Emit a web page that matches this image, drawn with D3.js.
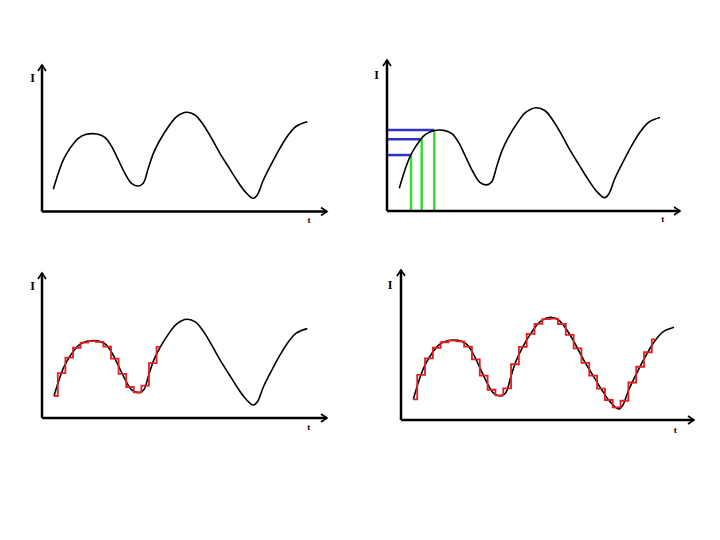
<!DOCTYPE html>
<html>
<head>
<meta charset="utf-8">
<script src="https://cdn.jsdelivr.net/npm/d3@7"></script>
<style>
  body { margin: 0; background: #fff; }
  .lab { font-family: "Liberation Serif", "DejaVu Serif", serif; font-weight: bold; fill: #000; }
</style>
</head>
<body>
<div id="chart"></div>
<script>
// signal I(t) (t and I in 0..100 units)
var curveT = [0, 1.97, 3.94, 6.56, 9.84, 13.1, 17.1, 20.3, 23.0, 25.6, 28.2, 30.8, 33.5, 35.4, 37.4,
    39.4, 42.0, 45.3, 48.6, 52.5, 55.8, 59.1, 62.3, 65.6, 68.9, 72.2, 75.5, 78.7, 80.3, 82.7,
    86.0, 89.2, 92.5, 95.8, 100];
var curveI = [10.5, 29.1, 44.6, 58.1, 69.8, 74.4, 74.8, 70.9, 60.1, 44.6, 29.1, 17.4, 14.3, 17.4, 34.9,
    52.3, 67.8, 83.3, 95.0, 100, 96.9, 85.3, 69.8, 52.3, 36.8, 21.3, 7.8, 0, 3.9, 21.3,
    40.7, 58.1, 73.6, 84.1, 89.1];

// three sampled points (panel 2)
var probeT = [4.5, 8.6, 13.4];
var probeI = [47.4, 64.9, 75.2];

// sample-and-hold values (panels 3 and 4)
var holdT = [0, 3, 6, 9, 12, 15, 18, 21, 24, 27, 30, 33, 36, 39, 42, 45, 48, 51, 54, 57,
    60, 63, 66, 69, 72, 75, 78, 81, 84, 87, 90, 93];
var holdI = [10.5, 37.2, 55.2, 66.8, 72.8, 74.6, 73.7, 68.1, 54.1, 36.3, 21.0, 14.9, 22.6, 48.8, 67.8, 81.9,
    92.9, 98.1, 98.6, 92.7, 80.9, 66.1, 50.4, 36.3, 22.2, 9.8, 1.7, 9.0, 28.9, 46.1, 61.9, 76.0];

var axisLabels = ["I", "t"];

var width = 720, height = 540;

var svg = d3.select("#chart").append("svg")
    .attr("width", width)
    .attr("height", height);

svg.append("rect").attr("width", width).attr("height", height).attr("fill", "#fff");

// panel layout: axis origin, axis ends, and where the curve sits
var panels = [
    {ox: 42, oy: 211.5, top: 65, right: 327, x0: 53.3, x1: 307.3, yLo: 198.3, yHi: 112.3,
        iPos: [32.7, 78], tPos: [309, 220], probe: false, holdTo: -1},
    {ox: 387, oy: 211, top: 60, right: 680, x0: 399.3, x1: 660, yLo: 197.7, yHi: 107.7,
        iPos: [376.7, 75], tPos: [662.7, 219], probe: true, holdTo: -1},
    {ox: 42, oy: 418, top: 273, right: 327, x0: 54, x1: 307.3, yLo: 405, yHi: 319.3,
        iPos: [32.7, 286], tPos: [308.7, 427], probe: false, holdTo: 42},
    {ox: 401, oy: 420, top: 270, right: 694, x0: 413.3, x1: 674, yLo: 409, yHi: 317.3,
        iPos: [390, 285], tPos: [675.3, 430], probe: false, holdTo: 93}
];

var curveData = curveT.map(function (t, i) { return {t: t, v: curveI[i]}; });
var holdData = holdT.map(function (t, i) { return {t: t, v: holdI[i]}; });

panels.forEach(function (p) {
    var x = d3.scaleLinear().domain([0, 100]).range([p.x0, p.x1]);
    var y = d3.scaleLinear().domain([0, 100]).range([p.yLo, p.yHi]);
    var g = svg.append("g");

    // sampling guides
    if (p.probe) {
        g.selectAll(".blue")
            .data(probeT)
            .enter().append("line")
            .attr("x1", p.ox)
            .attr("x2", function (d) { return x(d); })
            .attr("y1", function (d, i) { return y(probeI[i]); })
            .attr("y2", function (d, i) { return y(probeI[i]); })
            .attr("stroke", "#3030c8")
            .attr("stroke-width", 2.5);

        g.selectAll(".green")
            .data(probeT)
            .enter().append("line")
            .attr("x1", function (d) { return x(d); })
            .attr("x2", function (d) { return x(d); })
            .attr("y1", p.oy)
            .attr("y2", function (d, i) { return y(probeI[i]); })
            .attr("stroke", "#33dd33")
            .attr("stroke-width", 2.5);
    }

    // the signal
    g.append("path")
        .datum(curveData)
        .attr("fill", "none")
        .attr("stroke", "#000")
        .attr("stroke-width", 1.6)
        .attr("d", d3.line()
            .x(function (d) { return x(d.t); })
            .y(function (d) { return y(d.v); })
            .curve(d3.curveCatmullRom));

    // held samples
    if (p.holdTo > 0) {
        g.append("path")
            .datum(holdData.filter(function (d) { return d.t <= p.holdTo; }))
            .attr("fill", "none")
            .attr("stroke", "#e02020")
            .attr("stroke-width", 1.8)
            .attr("d", d3.line()
                .x(function (d) { return x(d.t); })
                .y(function (d) { return y(d.v); })
                .curve(d3.curveStep));
    }

    // axes with arrow heads
    var ax = g.append("g")
        .attr("stroke", "#000")
        .attr("stroke-width", 2.5)
        .attr("fill", "none");
    ax.append("line").attr("x1", p.ox).attr("y1", p.oy).attr("x2", p.ox).attr("y2", p.top);
    ax.append("line").attr("x1", p.ox).attr("y1", p.oy).attr("x2", p.right).attr("y2", p.oy);
    ax.append("path")
        .attr("stroke-width", 1.6)
        .attr("d", "M" + (p.ox - 4) + "," + (p.top + 6) + "L" + p.ox + "," + p.top + "L" + (p.ox + 4) + "," + (p.top + 6));
    ax.append("path")
        .attr("stroke-width", 1.6)
        .attr("d", "M" + (p.right - 6) + "," + (p.oy - 4) + "L" + p.right + "," + p.oy + "L" + (p.right - 6) + "," + (p.oy + 4));

    g.append("text")
        .attr("class", "lab")
        .attr("x", p.iPos[0])
        .attr("y", p.iPos[1])
        .attr("dy", ".35em")
        .attr("text-anchor", "middle")
        .attr("font-size", 12)
        .text(axisLabels[0]);

    g.append("text")
        .attr("class", "lab")
        .attr("x", p.tPos[0])
        .attr("y", p.tPos[1])
        .attr("dy", ".35em")
        .attr("text-anchor", "middle")
        .attr("font-size", 9)
        .text(axisLabels[1]);
});
</script>
</body>
</html>
